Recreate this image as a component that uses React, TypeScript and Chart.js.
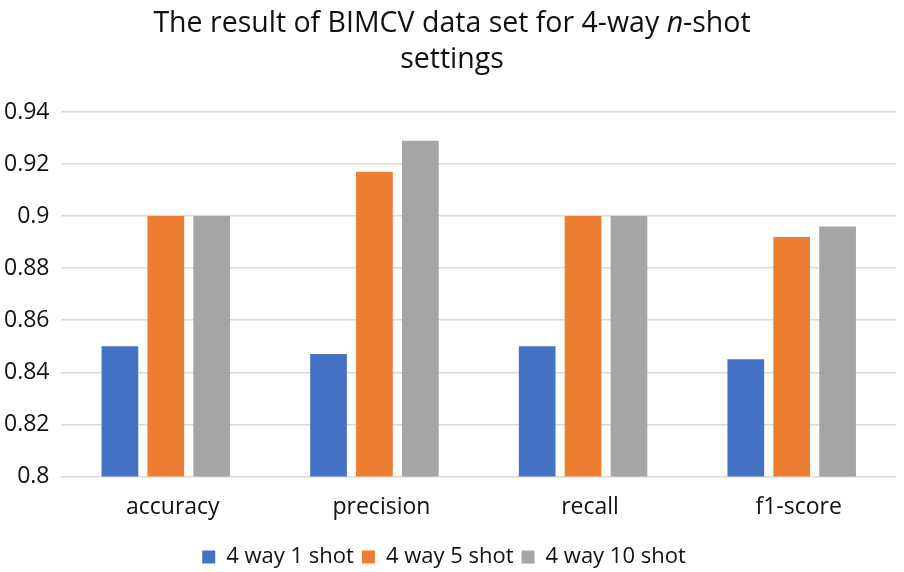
import React, { useEffect, useRef } from "react";
import { Chart, registerables } from "chart.js";

Chart.register(...registerables);

const categories = ["accuracy", "precision", "recall", "f1-score"];
const seriesNames = ["4 way 1 shot", "4 way 5 shot", "4 way 10 shot"];
const oneShot = [0.85, 0.847, 0.85, 0.845];
const fiveShot = [0.9, 0.917, 0.9, 0.892];
const tenShot = [0.9, 0.929, 0.9, 0.896];
const seriesColors = ["#4472C4", "#ED7D31", "#A5A5A5"];
const yMin = 0.8;
const yMax = 0.94;
const yStep = 0.02;
const titleLine1 = ["The result of BIMCV data set for 4-way ", "n", "-shot"];
const titleLine2 = "settings";

const FONT = "'Open Sans', 'Liberation Sans', sans-serif";
const TEXT = "#111111";

const titlePlugin = {
  id: "mixedTitle",
  afterDraw(chart: any) {
    const ctx = chart.ctx as CanvasRenderingContext2D;
    ctx.save();
    ctx.fillStyle = TEXT;
    ctx.textBaseline = "middle";
    ctx.textAlign = "left";
    const size = 28.5;
    const normal = `${size}px ${FONT}`;
    const italic = `italic ${size}px ${FONT}`;
    const fonts = [normal, italic, normal];
    let total = 0;
    const widths = titleLine1.map((s, i) => {
      ctx.font = fonts[i];
      const w = ctx.measureText(s).width;
      total += w;
      return w;
    });
    const cx = 452;
    let x = cx - total / 2;
    const y1 = 24;
    titleLine1.forEach((s, i) => {
      ctx.font = fonts[i];
      ctx.fillText(s, x, y1);
      x += widths[i];
    });
    ctx.font = normal;
    ctx.textAlign = "center";
    ctx.fillText(titleLine2, cx, 60);
    ctx.restore();
  },
};

export default function App() {
  const ref = useRef<HTMLCanvasElement | null>(null);
  useEffect(() => {
    if (!ref.current) return;
    const chart = new Chart(ref.current, {
      type: "bar",
      data: {
        labels: categories,
        datasets: [oneShot, fiveShot, tenShot].map((d, i) => ({
          label: seriesNames[i],
          data: d,
          backgroundColor: seriesColors[i],
          borderWidth: 0,
          categoryPercentage: 0.66,
          barPercentage: 0.8,
        })),
      },
      options: {
        animation: false,
        responsive: true,
        maintainAspectRatio: false,
        layout: { padding: { top: 112, right: 8, left: -8, bottom: 4 } },
        plugins: {
          title: { display: false },
          tooltip: { enabled: false },
          legend: {
            position: "bottom",
            labels: {
              font: { family: FONT, size: 22 },
              color: TEXT,
              boxWidth: 13,
              boxHeight: 13,
              padding: 8,
            },
          },
        },
        scales: {
          x: {
            grid: { display: false, drawTicks: false },
            border: { display: false },
            ticks: { font: { family: FONT, size: 23 }, color: TEXT, padding: 17, labelOffset: 7 },
          },
          y: {
            min: yMin,
            max: yMax,
            grid: { color: "#D9D9D9", lineWidth: 1.5, drawTicks: false },
            border: { display: false },
            ticks: {
              stepSize: yStep,
              font: { family: FONT, size: 23 },
              color: TEXT,
              padding: 12,
              callback: (v: any) => String(Number(Number(v).toFixed(2))),
            },
          },
        },
      },
      plugins: [titlePlugin],
    });
    return () => chart.destroy();
  }, []);
  return (
    <div style={{ position: "absolute", left: 0, top: 0, width: 904, height: 582, background: "#fff", overflow: "hidden" }}>
      <canvas ref={ref} />
    </div>
  );
}
